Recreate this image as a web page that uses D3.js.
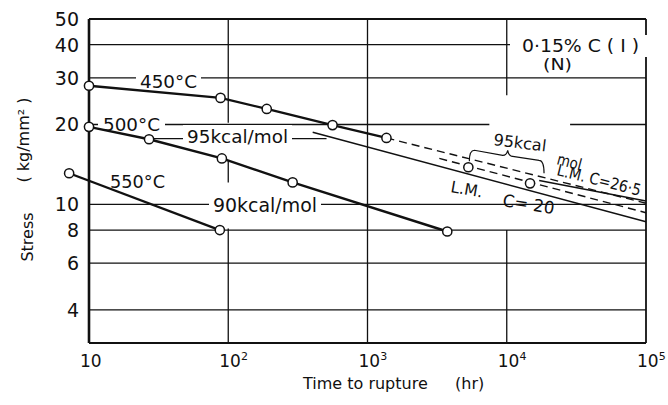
<!DOCTYPE html>
<html>
<head>
<meta charset="utf-8">
<script src="https://cdn.jsdelivr.net/npm/d3@7"></script>
<style>
  body { margin: 0; background: #fff; }
  svg { display: block; font-family: "DejaVu Sans", sans-serif; }
</style>
</head>
<body>
<svg id="chart" width="668" height="405"></svg>
<script>
// ---------- DATA ----------
// rupture time (hr) and stress (kg/mm2) for each test temperature
const T_450 = [10, 88, 189, 561, 1368];
const S_450 = [28, 25.2, 22.9, 19.9, 17.8];
const T_500 = [10, 27, 90, 290, 3740];
const S_500 = [19.6, 17.6, 14.9, 12.1, 7.9];
const T_550 = [7.2, 87];
const S_550 = [13.1, 8.0];

// extrapolations of the 450°C curve
const T_EXT_95 = [1368, 100000];   // 95 kcal/mol
const S_EXT_95 = [17.8, 10.1];
const T_EXT_95B = [3280, 100000];
const S_EXT_95B = [14.9, 9.3];
const T_EXT_LM265 = [17100, 100000]; // L.M. C=26.5
const S_EXT_LM265 = [12.3, 10.3];
const T_EXT_LM20 = [404, 100000];  // L.M. C=20
const S_EXT_LM20 = [18.7, 8.6];

// predicted points bracketed by the brace
const T_MARK = [5300, 14700];
const S_MARK = [13.8, 12.0];

// leader under the "95kcal/mol" label
const T_LEADER = [27, 508];
const S_LEADER = 17.7;

const X_TICKS = [10, 1e2, 1e3, 1e4, 1e5];
const X_GRID = [1e2, 1e3, 1e4];
const Y_TICKS = [50, 40, 30, 20, 10, 8, 6, 4];
const Y_GRID = [40, 30, 20, 10, 8, 6, 4];

// places where the printed grid is interrupted
const GAPS_X = { 100: [[20.3, 14.7], [12.1, 8.1]], 10000: [[25.8, 8.0]] };
const GAPS_Y = { 20: [[7500, 28500]] };

// ---------- SCAFFOLD ----------
const svg = d3.select("#chart");
const x = d3.scaleLog().domain([10, 1e5]).range([89, 646]);
const y = d3.scaleLog().domain([3, 50]).range([343, 19]);
const ink = "#111";

const grid = svg.append("g").attr("stroke", ink).attr("stroke-width", 1.3);

function segments(full, gaps) {
  const out = [];
  let start = full[0];
  (gaps || []).map(g => [Math.min(...g), Math.max(...g)])
    .sort((a, b) => a[0] - b[0])
    .forEach(g => { out.push([start, g[0]]); start = g[1]; });
  out.push([start, full[1]]);
  return out;
}

X_GRID.forEach(t => {
  const gaps = (GAPS_X[t] || []).map(g => g.map(y));
  segments([y(50), y(3)], gaps).forEach(s => {
    grid.append("line").attr("x1", x(t)).attr("x2", x(t)).attr("y1", s[0]).attr("y2", s[1]);
  });
});
Y_GRID.forEach(v => {
  const gaps = (GAPS_Y[v] || []).map(g => g.map(x));
  segments([x(10), x(1e5)], gaps).forEach(s => {
    grid.append("line").attr("y1", y(v)).attr("y2", y(v)).attr("x1", s[0]).attr("x2", s[1]);
  });
});

// frame
svg.append("line").attr("x1", x(10)).attr("x2", x(10)).attr("y1", y(50)).attr("y2", y(3))
  .attr("stroke", ink).attr("stroke-width", 2.6);
svg.append("line").attr("x1", x(10)).attr("x2", x(1e5)).attr("y1", y(3)).attr("y2", y(3))
  .attr("stroke", ink).attr("stroke-width", 2.2);
svg.append("line").attr("x1", x(10)).attr("x2", x(1e5)).attr("y1", y(50)).attr("y2", y(50))
  .attr("stroke", ink).attr("stroke-width", 1.8);
svg.append("line").attr("x1", x(1e5)).attr("x2", x(1e5)).attr("y1", y(50)).attr("y2", y(3))
  .attr("stroke", ink).attr("stroke-width", 1.8);

// ---------- TICK LABELS ----------
svg.append("g").selectAll("text")
  .data(Y_TICKS)
  .join("text")
  .attr("x", 79)
  .attr("y", d => y(d))
  .attr("dy", "0.36em")
  .attr("text-anchor", "end")
  .attr("font-size", 19)
  .attr("fill", ink)
  .text(d => d);

const xt = svg.append("g").selectAll("text")
  .data(X_TICKS)
  .join("text")
  .attr("x", d => x(d) - 9)
  .attr("y", 367)
  .attr("font-size", 17)
  .attr("fill", ink);
xt.append("tspan").text("10");
xt.filter(d => d > 10).append("tspan")
  .attr("font-size", 11)
  .attr("dy", -7)
  .text(d => Math.round(Math.log10(d)));

// axis titles
svg.append("text")
  .attr("transform", "translate(33,237) rotate(-90)")
  .attr("text-anchor", "middle").attr("font-size", 16).attr("fill", ink)
  .text("Stress");
svg.append("text")
  .attr("transform", "translate(29,140) rotate(-90)")
  .attr("text-anchor", "middle").attr("font-size", 16).attr("fill", ink)
  .text("( kg/mm² )");
svg.append("text").attr("x", 303).attr("y", 389).attr("font-size", 16).attr("fill", ink)
  .text("Time to rupture");
svg.append("text").attr("x", 455).attr("y", 389).attr("font-size", 16).attr("fill", ink)
  .text("(hr)");

// ---------- LEADER + LABELS ----------
svg.append("line")
  .attr("x1", x(T_LEADER[0])).attr("x2", x(T_LEADER[1]))
  .attr("y1", y(S_LEADER)).attr("y2", y(S_LEADER))
  .attr("stroke", ink).attr("stroke-width", 1.3);

const labels = svg.append("g");
function label(txt, px, py, size, len, opts = {}) {
  const g = labels.append("g")
    .attr("transform", `translate(${px},${py}) rotate(${opts.rotate || 0})`);
  const t = g.append("text")
    .attr("font-size", size)
    .attr("fill", ink)
    .attr("textLength", len)
    .attr("lengthAdjust", "spacingAndGlyphs")
    .text(txt);
  if (opts.bg) {
    const b = t.node().getBBox();
    const p = opts.pad || 3;
    g.insert("rect", "text")
      .attr("x", b.x - p).attr("y", b.y - 1)
      .attr("width", b.width + 2 * p).attr("height", b.height + 2)
      .attr("fill", "#fff");
  }
  return g;
}

label("450°C", 140, 88, 18, 57, { bg: true, pad: 4 });
label("500°C", 103, 131, 18, 57, { bg: true, pad: 5 });
label("550°C", 110, 188, 18, 55);
label("95kcal/mol", 187, 143, 18, 101, { bg: true, pad: 4 });
label("90kcal/mol", 213, 212, 19, 104, { bg: true, pad: 4 });
label("0·15% C ( I )", 522, 52, 17, 117, { bg: true, pad: 12 });
label("(N)", 543, 70, 16, 29, { bg: true, pad: 2 });
label("95kcal", 493, 145, 16, 53, { rotate: 7 });
label("mol", 556, 164, 16, 25, { rotate: 15 });
label("L.M. C=26·5", 556, 175, 16, 86, { rotate: 14 });
label("L.M.", 450, 192, 16, 32, { rotate: 10 });
label("C= 20", 502, 206, 17, 52, { rotate: 9 });

// ---------- CURVES ----------
const line = d3.line().x(d => x(d[0])).y(d => y(d[1]));
const zip = (ts, ss) => ts.map((t, i) => [t, ss[i]]);

const extra = [
  { pts: zip(T_EXT_LM20, S_EXT_LM20), dash: null },
  { pts: zip(T_EXT_LM265, S_EXT_LM265), dash: null },
  { pts: zip(T_EXT_95, S_EXT_95), dash: "8,5" },
  { pts: zip(T_EXT_95B, S_EXT_95B), dash: "8,5" }
];
svg.append("g").selectAll("path")
  .data(extra)
  .join("path")
  .attr("d", d => line(d.pts))
  .attr("fill", "none")
  .attr("stroke", ink)
  .attr("stroke-width", 1.4)
  .attr("stroke-dasharray", d => d.dash);

const series = [zip(T_450, S_450), zip(T_500, S_500), zip(T_550, S_550)];
svg.append("g").selectAll("path")
  .data(series)
  .join("path")
  .attr("d", line)
  .attr("fill", "none")
  .attr("stroke", ink)
  .attr("stroke-width", 2.4);

// brace between the two predicted points
const m = zip(T_MARK, S_MARK).map(d => [x(d[0]), y(d[1])]);
const [a, b] = m;
const tl = [a[0] + 6, a[1] - 17], tr = [b[0] + 9, b[1] - 23];
const mid = [(tl[0] + tr[0]) / 2, (tl[1] + tr[1]) / 2];
svg.append("path")
  .attr("d", `M${a[0] + 1},${a[1] - 6} Q${a[0] + 1},${tl[1]} ${tl[0]},${tl[1]}
    L${mid[0] - 4},${mid[1]} Q${mid[0]},${mid[1]} ${mid[0] + 1},${mid[1] - 5}
    Q${mid[0] + 2},${mid[1] + 1} ${mid[0] + 6},${mid[1] + 1}
    L${tr[0]},${tr[1]} Q${tr[0] + 5},${tr[1]} ${tr[0] + 5},${b[1] - 10}`)
  .attr("fill", "none").attr("stroke", ink).attr("stroke-width", 1.2);

// ---------- MARKERS ----------
const allPts = [].concat(...series, zip(T_MARK, S_MARK));
svg.append("g").selectAll("circle")
  .data(allPts)
  .join("circle")
  .attr("cx", d => x(d[0]))
  .attr("cy", d => y(d[1]))
  .attr("r", 4.6)
  .attr("fill", "#fff")
  .attr("stroke", ink)
  .attr("stroke-width", 1.5);
</script>
</body>
</html>
